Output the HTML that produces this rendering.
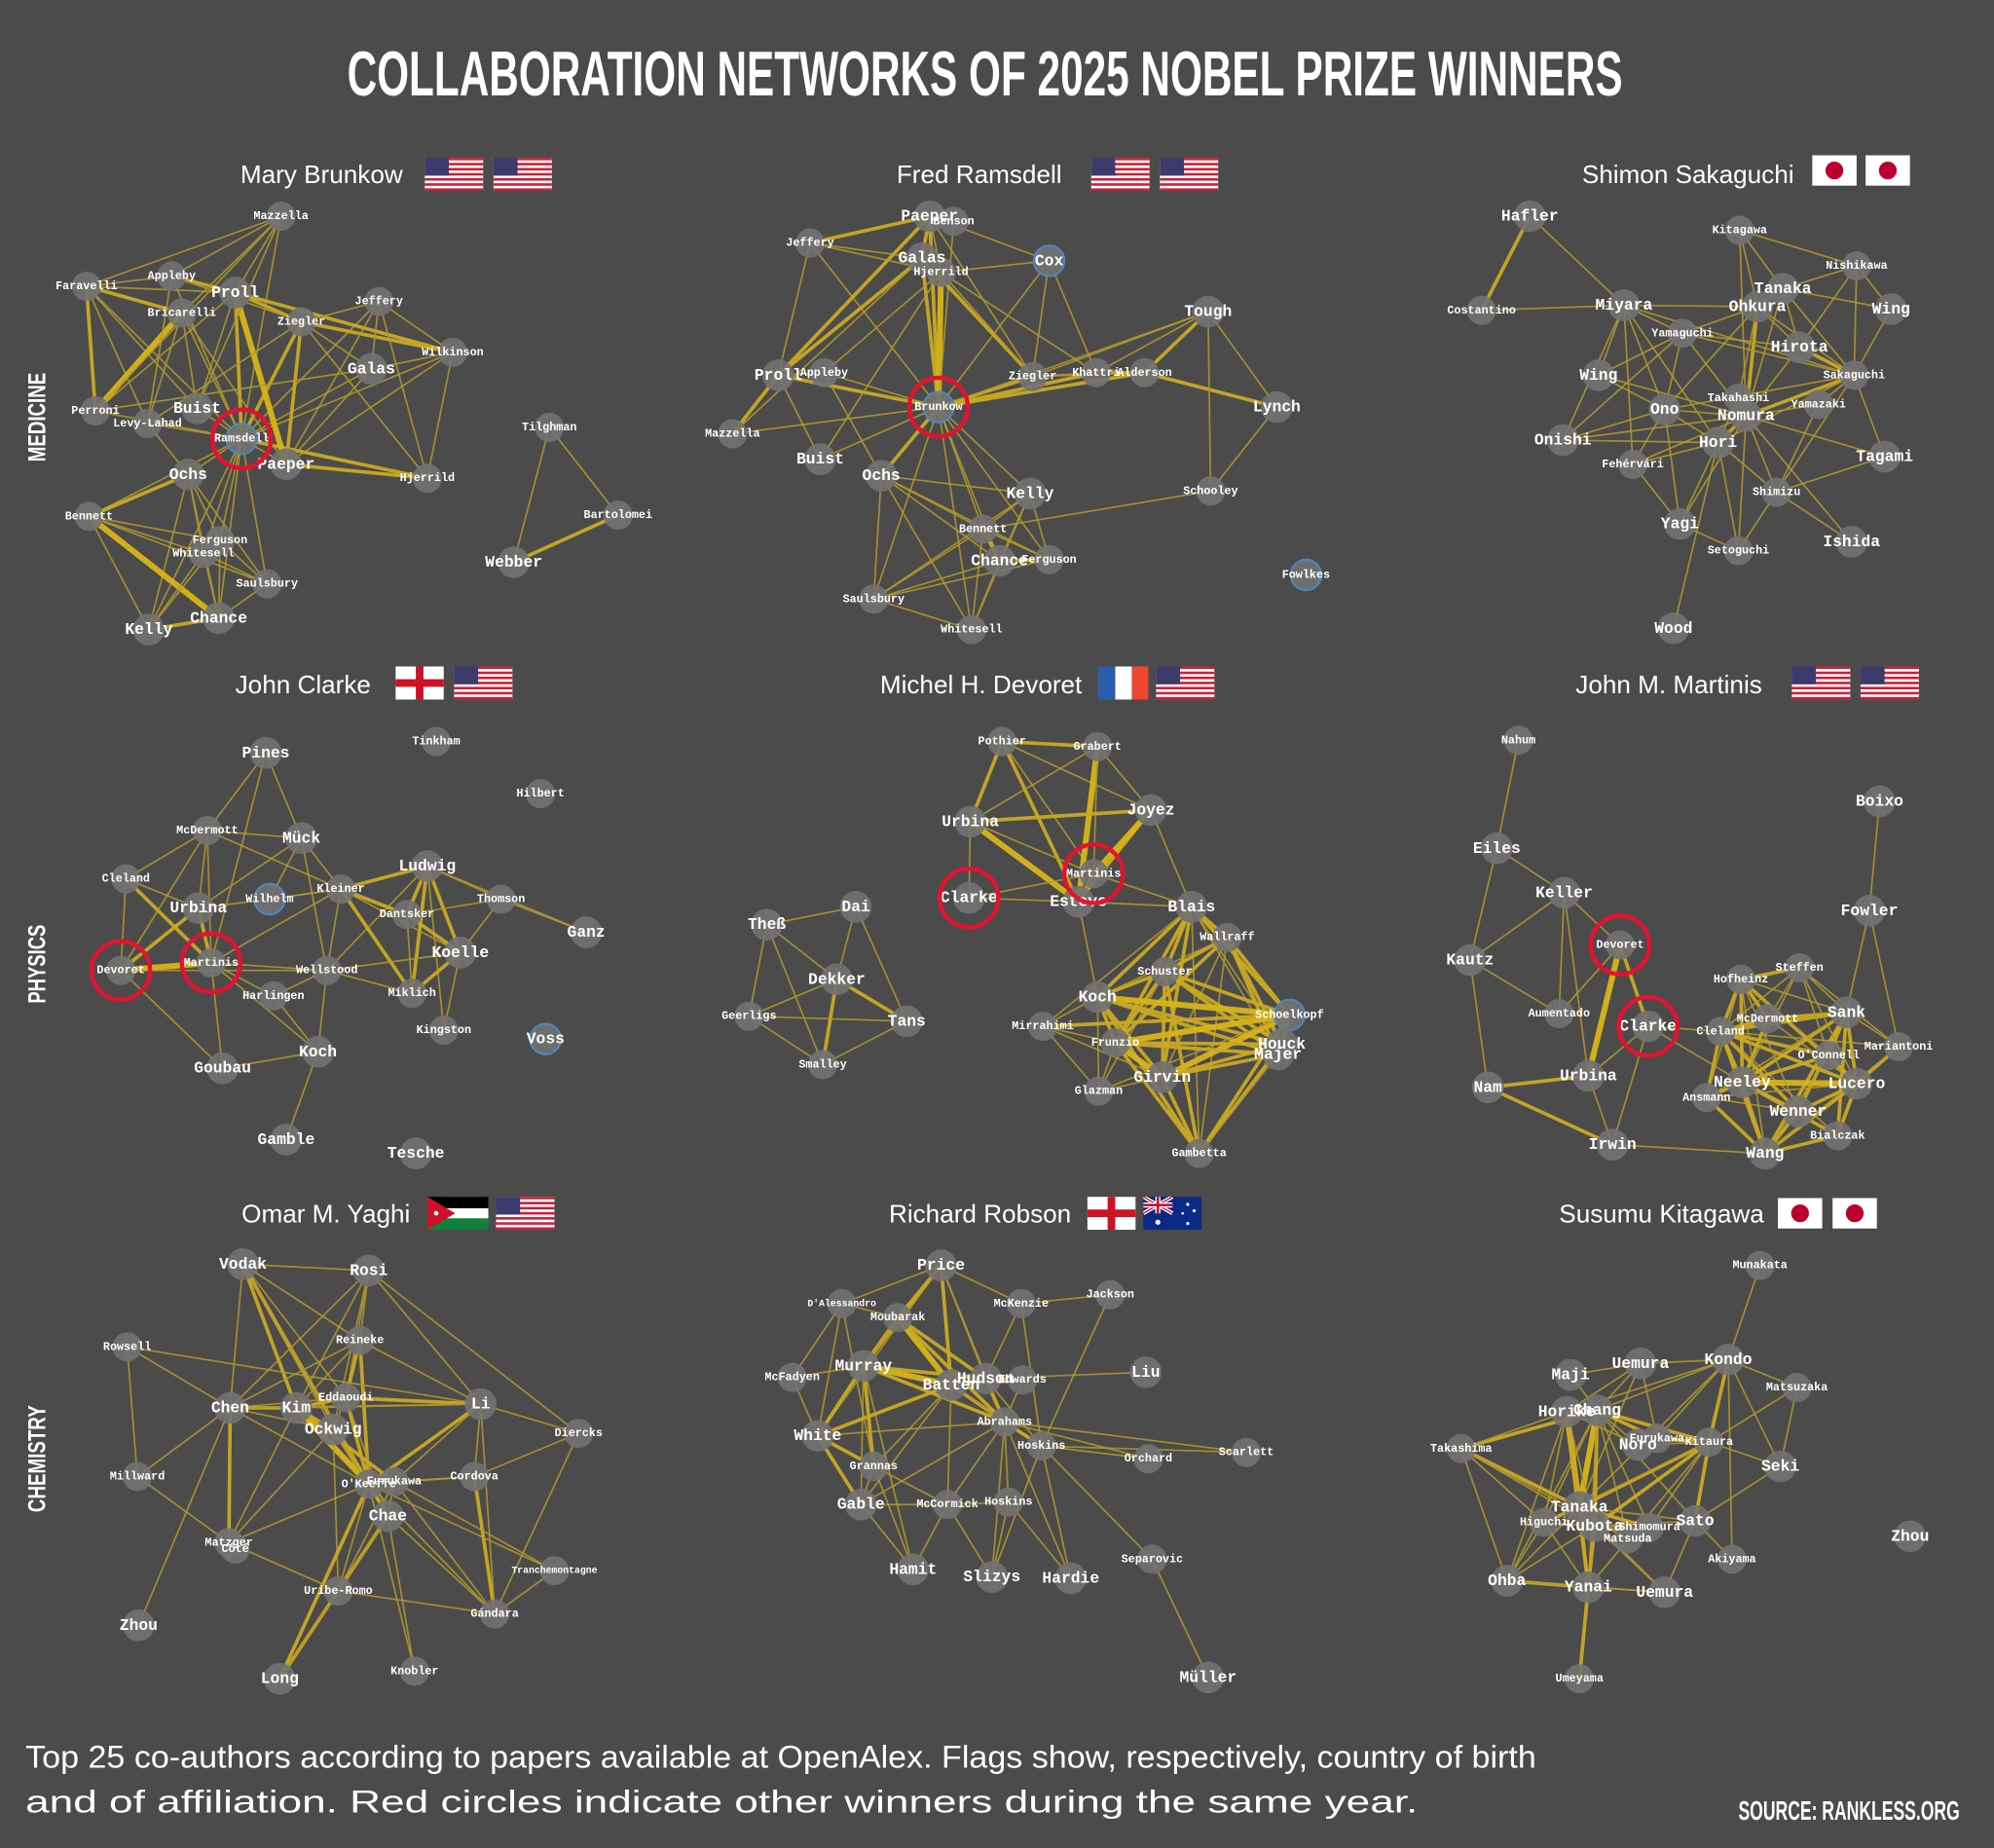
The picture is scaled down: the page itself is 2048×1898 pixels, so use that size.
<!DOCTYPE html>
<html><head><meta charset="utf-8">
<style>
html,body{margin:0;padding:0;background:#4b4b4b;}
svg{display:block;}
text{font-family:"Liberation Mono",monospace;font-weight:bold;fill:#fff;text-anchor:middle;dominant-baseline:central;}
.s7{font-size:7.5px}.s8{font-size:9px}.s11{font-size:12.5px}
.ttl{font-family:"Liberation Sans Narrow","Liberation Sans",sans-serif;font-weight:bold;font-size:50px;text-anchor:start;dominant-baseline:alphabetic;}
.nm{font-family:"Liberation Sans",sans-serif;font-weight:normal;font-size:20px;text-anchor:start;dominant-baseline:alphabetic;}
.sec{font-family:"Liberation Sans Narrow","Liberation Sans",sans-serif;font-weight:bold;font-size:19px;}
.ft{font-family:"Liberation Sans",sans-serif;font-weight:normal;font-size:25px;text-anchor:start;dominant-baseline:alphabetic;}
.src{font-family:"Liberation Sans Narrow","Liberation Sans",sans-serif;font-weight:bold;font-size:21px;text-anchor:start;dominant-baseline:alphabetic;}
</style></head><body>
<svg id="svg" xmlns="http://www.w3.org/2000/svg" width="2048" height="1898" viewBox="0 0 1568 1453">
<defs>
<symbol id="us" viewBox="0 0 46 26">
<rect width="46" height="26" fill="#fff"/>
<rect y="0" width="46" height="2" fill="#c8213a"/><rect y="4" width="46" height="2" fill="#c8213a"/><rect y="8" width="46" height="2" fill="#c8213a"/><rect y="12" width="46" height="2" fill="#c8213a"/><rect y="16" width="46" height="2" fill="#c8213a"/><rect y="20" width="46" height="2" fill="#c8213a"/><rect y="24" width="46" height="2" fill="#c8213a"/>
<rect width="19" height="14" fill="#3c3b6e"/>
</symbol>
<symbol id="jp" viewBox="0 0 35 24"><rect width="35" height="24" fill="#fff"/><circle cx="17.5" cy="12" r="7" fill="#bc002d"/></symbol>
<symbol id="en" viewBox="0 0 38 26"><rect width="38" height="26" fill="#fff"/><rect x="16" width="6" height="26" fill="#ce1124"/><rect y="10" width="38" height="6" fill="#ce1124"/></symbol>
<symbol id="fr" viewBox="0 0 40 26"><rect width="14" height="26" fill="#2b5ea8"/><rect x="14" width="13" height="26" fill="#fff"/><rect x="27" width="13" height="26" fill="#ee4631"/></symbol>
<symbol id="jo" viewBox="0 0 48 26"><rect width="48" height="9" fill="#000"/><rect y="9" width="48" height="8" fill="#fff"/><rect y="17" width="48" height="9" fill="#13803c"/><polygon points="0,0 22,13 0,26" fill="#ce1126"/><circle cx="7" cy="13" r="1.8" fill="#fff"/></symbol>
<symbol id="au" viewBox="0 0 46 26"><rect width="46" height="26" fill="#0a2a86"/><rect width="23" height="13" fill="#0a2a86"/><path d="M0 0L23 13M23 0L0 13" stroke="#fff" stroke-width="3"/><path d="M0 0L23 13M23 0L0 13" stroke="#c8102e" stroke-width="1"/><rect x="9.5" width="4" height="13" fill="#fff"/><rect y="4.5" width="23" height="4" fill="#fff"/><rect x="10.5" width="2" height="13" fill="#c8102e"/><rect y="5.5" width="23" height="2" fill="#c8102e"/><circle cx="11.5" cy="20" r="2" fill="#fff"/><circle cx="35" cy="6" r="1.2" fill="#fff"/><circle cx="40" cy="11" r="1.2" fill="#fff"/><circle cx="31" cy="13" r="1" fill="#fff"/><circle cx="35" cy="21" r="1.2" fill="#fff"/></symbol>
</defs>
<rect width="1568" height="1453" fill="#4b4b4b"/>
<text class="ttl" x="273" y="75" textLength="1003" lengthAdjust="spacingAndGlyphs">COLLABORATION NETWORKS OF  2025 NOBEL PRIZE WINNERS</text>

<text class="sec" transform="translate(30,328) rotate(-90)" textLength="70" lengthAdjust="spacingAndGlyphs">MEDICINE</text>
<text class="sec" transform="translate(30,758) rotate(-90)" textLength="62" lengthAdjust="spacingAndGlyphs">PHYSICS</text>
<text class="sec" transform="translate(30,1147) rotate(-90)" textLength="84" lengthAdjust="spacingAndGlyphs">CHEMISTRY</text>

<text class="nm" x="189" y="144">Mary Brunkow</text><use href="#us" x="334" y="124" width="46" height="26"/><use href="#us" x="388" y="124" width="46" height="26"/>
<text class="nm" x="705" y="144">Fred Ramsdell</text><use href="#us" x="858" y="124" width="46" height="26"/><use href="#us" x="912" y="124" width="46" height="26"/>
<text class="nm" x="1244" y="144">Shimon Sakaguchi</text><use href="#jp" x="1425" y="122" width="35" height="24"/><use href="#jp" x="1467" y="122" width="35" height="24"/>
<text class="nm" x="185" y="545">John Clarke</text><use href="#en" x="311" y="524" width="38" height="26"/><use href="#us" x="357" y="524" width="46" height="26"/>
<text class="nm" x="692" y="545">Michel H. Devoret</text><use href="#fr" x="863" y="524" width="40" height="26"/><use href="#us" x="909" y="524" width="46" height="26"/>
<text class="nm" x="1239" y="545">John M. Martinis</text><use href="#us" x="1409" y="524" width="46" height="26"/><use href="#us" x="1463" y="524" width="46" height="26"/>
<text class="nm" x="190" y="961">Omar M. Yaghi</text><use href="#jo" x="336" y="941" width="48" height="26"/><use href="#us" x="390" y="941" width="46" height="26"/>
<text class="nm" x="699" y="961">Richard Robson</text><use href="#en" x="855" y="941" width="38" height="26"/><use href="#au" x="899" y="941" width="46" height="26"/>
<text class="nm" x="1226" y="961">Susumu Kitagawa</text><use href="#jp" x="1398" y="942" width="35" height="24"/><use href="#jp" x="1441" y="942" width="35" height="24"/>

<g id="p1"><g class="E"></g><g class="N"></g><g class="T">
<text class="s8" x="221" y="170">Mazzella</text><text class="s8" x="68" y="225">Faravelli</text><text class="s8" x="135" y="217">Appleby</text><text class="s11" x="185" y="230">Proll</text><text class="s8" x="143" y="246">Bricarelli</text><text class="s8" x="237" y="253">Ziegler</text><text class="s8" x="298" y="237">Jeffery</text><text class="s8" x="356" y="277">Wilkinson</text><text class="s11" x="292" y="290">Galas</text><text class="s8" x="75" y="323">Perroni</text><text class="s11" x="155" y="321">Buist</text><text class="s8" x="116" y="333">Levy-Lahad</text><text class="s8 red blue" x="190" y="345">Ramsdell</text><text class="s11" x="225" y="365">Paeper</text><text class="s11" x="148" y="373">Ochs</text><text class="s8" x="336" y="376">Hjerrild</text><text class="s8" x="70" y="406">Bennett</text><text class="s8" x="173" y="425">Ferguson</text><text class="s8" x="160" y="435">Whitesell</text><text class="s8" x="210" y="459">Saulsbury</text><text class="s11" x="172" y="486">Chance</text><text class="s11" x="117" y="495">Kelly</text><text class="s8" x="432" y="336">Tilghman</text><text class="s8" x="486" y="405">Bartolomei</text><text class="s11" x="404" y="442">Webber</text>
</g></g>

<g id="p2"><g class="E"></g><g class="N"></g><g class="T">
<text class="s11" x="731" y="170">Paeper</text><text class="s8" x="750" y="174">Benson</text><text class="s8" x="637" y="191">Jeffery</text><text class="s11" x="725" y="203">Galas</text><text class="s8" x="740" y="214">Hjerrild</text><text class="s11 blue" x="825" y="205">Cox</text><text class="s11" x="950" y="245">Tough</text><text class="s11" x="612" y="295">Proll</text><text class="s8" x="648" y="293">Appleby</text><text class="s8 red blue" x="738" y="320">Brunkow</text><text class="s8" x="812" y="296">Ziegler</text><text class="s8" x="862" y="293">Khattri</text><text class="s8" x="900" y="293">Alderson</text><text class="s11" x="1004" y="320">Lynch</text><text class="s8" x="576" y="341">Mazzella</text><text class="s11" x="645" y="361">Buist</text><text class="s11" x="693" y="374">Ochs</text><text class="s11" x="810" y="388">Kelly</text><text class="s8" x="952" y="386">Schooley</text><text class="s8" x="773" y="416">Bennett</text><text class="s11" x="786" y="441">Chance</text><text class="s8" x="825" y="440">Ferguson</text><text class="s8" x="687" y="471">Saulsbury</text><text class="s8" x="764" y="495">Whitesell</text><text class="s8 blue" x="1027" y="452">Fowlkes</text>
</g></g>

<g id="p3"><g class="E"></g><g class="N"></g><g class="T">
<text class="s11" x="1203" y="170">Hafler</text><text class="s8" x="1165" y="244">Costantino</text><text class="s8" x="1368" y="181">Kitagawa</text><text class="s8" x="1460" y="209">Nishikawa</text><text class="s11" x="1402" y="227">Tanaka</text><text class="s11" x="1487" y="243">Wing</text><text class="s11" x="1277" y="240">Miyara</text><text class="s11" x="1382" y="241">Ohkura</text><text class="s8" x="1323" y="262">Yamaguchi</text><text class="s11" x="1415" y="273">Hirota</text><text class="s8" x="1458" y="295">Sakaguchi</text><text class="s11" x="1257" y="295">Wing</text><text class="s8" x="1367" y="313">Takahashi</text><text class="s11" x="1309" y="322">Ono</text><text class="s8" x="1430" y="318">Yamazaki</text><text class="s11" x="1373" y="327">Nomura</text><text class="s11" x="1229" y="346">Onishi</text><text class="s11" x="1351" y="348">Hori</text><text class="s11" x="1482" y="359">Tagami</text><text class="s8" x="1284" y="365">Fehérvári</text><text class="s8" x="1397" y="387">Shimizu</text><text class="s11" x="1321" y="412">Yagi</text><text class="s11" x="1456" y="426">Ishida</text><text class="s8" x="1367" y="433">Setoguchi</text><text class="s11" x="1316" y="494">Wood</text>
</g></g>

<g id="p4"><g class="E"></g><g class="N"></g><g class="T">
<text class="s8" x="343" y="583">Tinkham</text><text class="s11" x="209" y="592">Pines</text><text class="s8" x="425" y="624">Hilbert</text><text class="s8" x="163" y="653">McDermott</text><text class="s11" x="237" y="659">Mück</text><text class="s11" x="336" y="681">Ludwig</text><text class="s8" x="99" y="691">Cleland</text><text class="s8" x="268" y="699">Kleiner</text><text class="s8 blue" x="212" y="707">Wilhelm</text><text class="s8" x="394" y="707">Thomson</text><text class="s11" x="156" y="714">Urbina</text><text class="s8" x="320" y="719">Dantsker</text><text class="s11" x="461" y="733">Ganz</text><text class="s11" x="362" y="749">Koelle</text><text class="s8 red" x="95" y="763">Devoret</text><text class="s8 red" x="166" y="757">Martinis</text><text class="s8" x="257" y="763">Wellstood</text><text class="s8" x="215" y="783">Harlingen</text><text class="s8" x="324" y="781">Miklich</text><text class="s8" x="349" y="810">Kingston</text><text class="s11 blue" x="429" y="817">Voss</text><text class="s11" x="250" y="827">Koch</text><text class="s11" x="175" y="840">Goubau</text><text class="s11" x="225" y="896">Gamble</text><text class="s11" x="327" y="907">Tesche</text>
</g></g>

<g id="p5"><g class="E"></g><g class="N"></g><g class="T">
<text class="s8" x="788" y="583">Pothier</text><text class="s8" x="863" y="587">Grabert</text><text class="s11" x="905" y="637">Joyez</text><text class="s11" x="763" y="646">Urbina</text><text class="s8 red" x="860" y="687">Martinis</text><text class="s11 red" x="762" y="706">Clarke</text><text class="s11" x="848" y="709">Esteve</text><text class="s11" x="937" y="713">Blais</text><text class="s8" x="965" y="737">Wallraff</text><text class="s11" x="673" y="713">Dai</text><text class="s11" x="603" y="727">Theß</text><text class="s8" x="916" y="764">Schuster</text><text class="s11" x="658" y="770">Dekker</text><text class="s11" x="863" y="784">Koch</text><text class="s8 blue" x="1014" y="798">Schoelkopf</text><text class="s11" x="713" y="803">Tans</text><text class="s8" x="589" y="799">Geerligs</text><text class="s8" x="820" y="807">Mirrahimi</text><text class="s8" x="877" y="820">Frunzio</text><text class="s11" x="1005" y="829">Majer</text><text class="s11" x="1008" y="821">Houck</text><text class="s8" x="647" y="837">Smalley</text><text class="s11" x="914" y="847">Girvin</text><text class="s8" x="864" y="858">Glazman</text><text class="s8" x="943" y="907">Gambetta</text>
</g></g>

<g id="p6"><g class="E"></g><g class="N"></g><g class="T">
<text class="s8" x="1194" y="582">Nahum</text><text class="s11" x="1478" y="630">Boixo</text><text class="s11" x="1177" y="667">Eiles</text><text class="s11" x="1230" y="702">Keller</text><text class="s11" x="1470" y="716">Fowler</text><text class="s8 red" x="1274" y="743">Devoret</text><text class="s11" x="1156" y="755">Kautz</text><text class="s8" x="1415" y="761">Steffen</text><text class="s8" x="1369" y="770">Hofheinz</text><text class="s8" x="1226" y="797">Aumentado</text><text class="s8" x="1390" y="801">McDermott</text><text class="s11" x="1452" y="796">Sank</text><text class="s11 red" x="1296" y="807">Clarke</text><text class="s8" x="1353" y="811">Cleland</text><text class="s8" x="1493" y="823">Mariantoni</text><text class="s8" x="1438" y="830">O'Connell</text><text class="s11" x="1249" y="846">Urbina</text><text class="s11" x="1370" y="851">Neeley</text><text class="s11" x="1460" y="852">Lucero</text><text class="s11" x="1170" y="855">Nam</text><text class="s8" x="1342" y="863">Ansmann</text><text class="s11" x="1414" y="874">Wenner</text><text class="s8" x="1445" y="893">Bialczak</text><text class="s11" x="1268" y="900">Irwin</text><text class="s11" x="1388" y="907">Wang</text>
</g></g>

<g id="p7"><g class="E"></g><g class="N"></g><g class="T">
<text class="s11" x="191" y="994">Vodak</text><text class="s11" x="290" y="999">Rosi</text><text class="s8" x="283" y="1054">Reineke</text><text class="s8" x="100" y="1059">Rowsell</text><text class="s8" x="272" y="1099">Eddaoudi</text><text class="s11" x="181" y="1107">Chen</text><text class="s11" x="233" y="1107">Kim</text><text class="s11" x="378" y="1104">Li</text><text class="s11" x="262" y="1124">Ockwig</text><text class="s8" x="455" y="1127">Diercks</text><text class="s8" x="108" y="1161">Millward</text><text class="s8" x="373" y="1161">Cordova</text><text class="s8" x="310" y="1165">Furukawa</text><text class="s8" x="290" y="1167">O'Keeffe</text><text class="s11" x="305" y="1192">Chae</text><text class="s8" x="185" y="1218">Côté</text><text class="s8" x="180" y="1213">Matzger</text><text class="s7" x="436" y="1235">Tranchemontagne</text><text class="s8" x="266" y="1251">Uribe-Romo</text><text class="s8" x="389" y="1269">Gándara</text><text class="s11" x="109" y="1278">Zhou</text><text class="s8" x="326" y="1314">Knobler</text><text class="s11" x="220" y="1320">Long</text>
</g></g>

<g id="p8"><g class="E"></g><g class="N"></g><g class="T">
<text class="s11" x="740" y="995">Price</text><text class="s7" x="662" y="1025">D'Alessandro</text><text class="s8" x="803" y="1025">McKenzie</text><text class="s8" x="873" y="1018">Jackson</text><text class="s8" x="706" y="1036">Moubarak</text><text class="s11" x="679" y="1074">Murray</text><text class="s8" x="623" y="1083">McFadyen</text><text class="s11" x="901" y="1079">Liu</text><text class="s8" x="804" y="1085">Edwards</text><text class="s11" x="775" y="1084">Hudson</text><text class="s11" x="748" y="1089">Batten</text><text class="s8" x="790" y="1118">Abrahams</text><text class="s11" x="643" y="1129">White</text><text class="s8" x="819" y="1137">Hoskins</text><text class="s8" x="903" y="1147">Orchard</text><text class="s8" x="980" y="1142">Scarlett</text><text class="s8" x="687" y="1153">Grannas</text><text class="s11" x="677" y="1183">Gable</text><text class="s8" x="745" y="1183">McCormick</text><text class="s8" x="793" y="1181">Hoskins</text><text class="s11" x="718" y="1234">Hamit</text><text class="s11" x="780" y="1240">Slizys</text><text class="s11" x="842" y="1241">Hardie</text><text class="s8" x="906" y="1226">Separovic</text><text class="s11" x="950" y="1319">Müller</text>
</g></g>

<g id="p9"><g class="E"></g><g class="N"></g><g class="T">
<text class="s8" x="1384" y="995">Munakata</text><text class="s11" x="1359" y="1069">Kondo</text><text class="s11" x="1290" y="1072">Uemura</text><text class="s11" x="1235" y="1081">Maji</text><text class="s8" x="1413" y="1091">Matsuzaka</text><text class="s11" x="1232" y="1110">Horike</text><text class="s11" x="1256" y="1109">Chang</text><text class="s8" x="1303" y="1131">Furukawa</text><text class="s11" x="1288" y="1136">Noro</text><text class="s8" x="1344" y="1134">Kitaura</text><text class="s8" x="1149" y="1139">Takashima</text><text class="s11" x="1400" y="1153">Seki</text><text class="s11" x="1242" y="1185">Tanaka</text><text class="s8" x="1214" y="1197">Higuchi</text><text class="s11" x="1254" y="1200">Kubota</text><text class="s8" x="1297" y="1201">Shimomura</text><text class="s8" x="1280" y="1210">Matsuda</text><text class="s11" x="1333" y="1196">Sato</text><text class="s8" x="1362" y="1226">Akiyama</text><text class="s11" x="1502" y="1208">Zhou</text><text class="s11" x="1185" y="1243">Ohba</text><text class="s11" x="1249" y="1248">Yanai</text><text class="s11" x="1309" y="1252">Uemura</text><text class="s8" x="1242" y="1320">Umeyama</text>
</g></g>

<text class="ft" x="20" y="1390" textLength="1188" lengthAdjust="spacingAndGlyphs">Top 25 co-authors according to papers available at OpenAlex. Flags show, respectively, country of birth</text>
<text class="ft" x="20" y="1425" textLength="1095" lengthAdjust="spacingAndGlyphs">and of affiliation. Red circles indicate other winners during the same year.</text>
<text class="src" x="1367" y="1431" textLength="174" lengthAdjust="spacingAndGlyphs">SOURCE: RANKLESS.ORG</text>
</svg>
<script>
var E={
p1:"Ramsdell>Proll:2,Bricarelli,Appleby,Mazzella,Ziegler:2,Jeffery,Wilkinson,Galas,Hjerrild:2,Paeper,Ochs,Buist,Levy-Lahad,Perroni,Faravelli,Bennett,Ferguson,Whitesell,Saulsbury,Chance,Kelly;Proll>Paeper:3,Appleby:2,Faravelli,Mazzella,Ziegler:2,Wilkinson:2,Buist,Perroni;Faravelli>Appleby,Bricarelli:2,Perroni:2,Mazzella,Levy-Lahad,Buist;Bricarelli>Perroni:3,Levy-Lahad,Buist,Mazzella,Paeper;Appleby>Mazzella,Levy-Lahad,Ziegler;Ziegler>Jeffery,Wilkinson:2,Galas,Hjerrild,Paeper:2,Levy-Lahad;Jeffery>Galas,Hjerrild,Paeper,Wilkinson;Wilkinson>Hjerrild,Paeper,Galas;Galas>Paeper,Perroni;Paeper>Hjerrild:2;Ochs>Bennett:2,Ferguson,Whitesell,Chance,Kelly,Saulsbury,Levy-Lahad;Bennett>Chance:3,Kelly,Whitesell,Saulsbury,Ferguson;Whitesell>Kelly,Chance,Saulsbury;Ferguson>Kelly,Chance,Saulsbury;Chance>Kelly:2,Saulsbury;Tilghman>Webber,Bartolomei;Bartolomei>Webber:2;Mazzella>Buist,Perroni",
p2:"Brunkow>Paeper:2,Galas:2,Hjerrild:3,Jeffery,Proll:2,Appleby,Mazzella,Buist,Ochs:2,Ziegler:2,Khattri:2,Alderson:2,Cox,Kelly,Bennett,Chance,Ferguson,Whitesell,Saulsbury,Tough,Benson;Paeper>Jeffery:2,Galas:2,Hjerrild,Proll:2,Ziegler,Cox,Benson;Galas>Jeffery,Proll:2,Mazzella,Ziegler:2,Hjerrild;Jeffery>Proll,Hjerrild;Hjerrild>Ziegler,Cox,Buist,Appleby,Khattri;Proll>Appleby,Mazzella:2,Buist;Ziegler>Khattri,Alderson,Cox,Tough;Khattri>Alderson:2,Tough,Cox;Alderson>Tough:2,Lynch:2;Tough>Lynch,Schooley;Lynch>Schooley;Ochs>Kelly,Bennett,Chance,Saulsbury,Whitesell,Ferguson;Kelly>Bennett,Chance,Ferguson,Whitesell,Saulsbury;Bennett>Chance:2,Ferguson,Whitesell,Saulsbury;Chance>Ferguson:2,Whitesell,Saulsbury;Saulsbury>Whitesell,Ferguson;Schooley>Bennett;Appleby>Ochs",
p3:"Hafler>Costantino:2,Miyara;Nomura>Sakaguchi:2,Ohkura:2,Hori:2,Takahashi:2,Ono,Yamaguchi,Tanaka,Hirota,Tagami,Shimizu,Yagi,Setoguchi,Fehérvári,Wing2,Onishi,Yamazaki,Kitagawa,Ishida;Sakaguchi>Hirota:2,Ohkura,Tanaka,Wing,Nishikawa,Yamazaki,Tagami,Shimizu,Ono,Hori,Miyara,Yamaguchi;Miyara>Yamaguchi,Ono,Wing2,Onishi,Ohkura,Costantino,Fehérvári,Hori;Ohkura>Tanaka,Kitagawa,Hirota,Takahashi,Ono,Yamaguchi;Tanaka>Nishikawa,Wing,Kitagawa,Hirota;Hori>Ono,Yagi,Fehérvári,Shimizu,Setoguchi,Onishi,Takahashi,Wood;Yamaguchi>Wing2,Onishi,Ono,Hirota;Ono>Wing2,Onishi,Fehérvári,Yagi;Shimizu>Ishida,Tagami,Yamazaki,Setoguchi;Nishikawa>Wing,Hirota,Kitagawa;Yagi>Setoguchi,Fehérvári",
p4:"Martinis>Devoret:3,Urbina:2,Cleland:2,McDermott,Wellstood,Harlingen,Koch,Goubau,Kleiner,Pines;Devoret>Urbina:2,Cleland,McDermott,Wellstood,Goubau;McDermott>Pines,Mück,Urbina,Cleland,Kleiner;Pines>Mück;Mück>Kleiner,Wilhelm,Wellstood,Urbina;Ludwig>Kleiner:2,Dantsker:2,Koelle:2,Thomson,Miklich:2,Kingston,Wellstood,Ganz;Kleiner>Dantsker:2,Koelle,Miklich:2,Wellstood,Wilhelm;Dantsker>Koelle:2,Miklich,Thomson;Koelle>Miklich:2,Kingston,Thomson;Thomson>Ganz;Wellstood>Koelle,Miklich,Koch,Harlingen;Koch>Goubau,Gamble,Harlingen;Urbina>Cleland,Wilhelm;Wilhelm>Kleiner",
p5:"Pothier>Grabert:2,Urbina:2,Joyez,Esteve:2,Martinis;Grabert>Joyez,Esteve:3,Urbina,Martinis;Joyez>Urbina:2,Esteve:2,Martinis:3,Blais;Urbina>Clarke,Esteve:3,Martinis;Martinis>Clarke,Esteve:2,Blais;Clarke>Esteve;Esteve>Koch,Blais;Dai>Theß,Dekker,Tans;Theß>Dekker,Geerligs,Smalley;Dekker>Geerligs,Tans:2,Smalley:2;Smalley>Tans,Geerligs;Geerligs>Tans;Blais>Wallraff:2,Schuster:2,Koch:2,Schoelkopf:2,Frunzio:2,Girvin:2,Majer,Houck,Gambetta,Mirrahimi;Wallraff>Schuster:2,Koch,Schoelkopf:2,Frunzio:2,Girvin,Majer:2,Houck:2,Gambetta;Schuster>Koch:2,Schoelkopf:2,Frunzio:2,Girvin:2,Majer:2,Houck:2,Gambetta:2,Glazman;Koch>Schoelkopf:3,Frunzio:2,Girvin:2,Majer:2,Houck:2,Gambetta:2,Mirrahimi,Glazman;Schoelkopf>Frunzio:3,Girvin:3,Majer:2,Houck:2,Gambetta:2,Mirrahimi:2,Glazman;Frunzio>Girvin:3,Majer:2,Houck:2,Gambetta:2,Mirrahimi,Glazman;Girvin>Majer:2,Houck:2,Gambetta:2,Glazman,Mirrahimi;Houck>Gambetta:2,Majer;Majer>Gambetta;Mirrahimi>Glazman",
p6:"Nahum>Eiles;Eiles>Keller,Kautz;Keller>Devoret,Aumentado,Kautz,Urbina;Devoret>Clarke:2,Urbina:3,Aumentado;Kautz>Nam,Aumentado;Nam>Urbina:2,Irwin:2;Urbina>Clarke,Irwin;Clarke>Cleland,Irwin,Neeley;Irwin>Wang;Boixo>Fowler;Fowler>Sank,Mariantoni;Cleland>Sank:2,McDermott:2,Hofheinz:2,Steffen,Neeley:2,Lucero:2,Wenner:2,O'Connell:2,Mariantoni,Ansmann:2,Wang:2,Bialczak;Sank>Steffen,Hofheinz,McDermott:2,O'Connell:2,Mariantoni,Lucero:2,Neeley:2,Wenner:2,Wang:2,Bialczak:2,Ansmann;Neeley>Hofheinz:2,McDermott:2,O'Connell:2,Lucero:3,Wenner:2,Wang:2,Bialczak:2,Ansmann:2,Steffen;Lucero>Hofheinz:2,McDermott,O'Connell:2,Wenner:2,Wang:2,Bialczak:2,Ansmann,Mariantoni:2,Steffen;Wang>Wenner:2,Bialczak:2,Ansmann:2,O'Connell,Hofheinz,Mariantoni;Hofheinz>McDermott:2,Steffen:2,O'Connell,Wenner;Steffen>McDermott,Mariantoni,O'Connell;Ansmann>Wenner,Hofheinz",
p7:"Vodak>Eddaoudi,Kim:2,Ockwig,O'Keeffe:2,Chen,Reineke,Chae,Rosi;Rosi>Eddaoudi,Reineke,Kim,Li,Diercks,Ockwig,Chen;Reineke>Eddaoudi:2,O'Keeffe:2,Chen,Kim,Li;Rowsell>Chen,Millward,Li;Eddaoudi>Kim:2,Li:2,O'Keeffe:2,Chen,Chae,Ockwig;Chen>Kim:2,Li,Matzger:2,Millward,Ockwig,O'Keeffe;Kim>Ockwig:2,O'Keeffe:3,Li,Matzger,Furukawa:2;Ockwig>O'Keeffe:2,Chae,Matzger,Uribe-Romo;O'Keeffe>Furukawa:2,Chae:2,Li:2,Cordova,Uribe-Romo,Long:2,Matzger,Gándara,Knobler;Furukawa>Chae,Cordova,Li,Gándara,Tranchemontagne,Uribe-Romo;Chae>Long:2,Uribe-Romo,Knobler,Gándara;Li>Cordova,Diercks,Gándara;Cordova>Gándara:2,Diercks;Diercks>Gándara;Tranchemontagne>Gándara,O'Keeffe;Matzger>Millward,Uribe-Romo,Côté;Zhou>Chen;Uribe-Romo>Long,Gándara",
p8:"Price>D'Alessandro,Moubarak:2,Murray:2,Batten:2,McKenzie,Hudson,Abrahams,White;Moubarak>Murray:2,Batten:3,Hudson:2,Abrahams:2,D'Alessandro,White;Murray>Batten:3,Hudson:2,Abrahams:2,White:2,McFadyen,Grannas:2,Gable,Hamit;Batten>Hudson:2,Edwards:2,Abrahams:2,White:2,Grannas,Gable,McCormick,Hoskins;Hudson>Edwards,Abrahams:2,Hoskins,McKenzie,Liu;Abrahams>Hoskins:2,Edwards,McCormick,Hoskins2,White,Gable,Slizys,Hardie,Orchard,Scarlett;Hoskins>Orchard,Scarlett,Jackson,Hardie,Separovic,Slizys,McKenzie;White>Grannas:2,Gable:2,McFadyen,D'Alessandro;Grannas>Gable,McCormick,Hamit;Gable>Hamit,McCormick;McCormick>Hamit,Slizys,Hoskins2;Hoskins2>Slizys,Hardie;Separovic>Müller;D'Alessandro>McFadyen,Grannas;McKenzie>Jackson",
p9:"Kondo>Munakata,Uemura,Matsuzaka,Kitaura:2,Chang,Seki,Horike,Furukawa,Tanaka,Akiyama;Uemura>Maji,Chang,Horike,Furukawa,Tanaka;Chang>Horike:3,Maji,Tanaka:3,Kubota:2,Takashima:2,Higuchi,Furukawa:2,Kitaura:2,Noro,Shimomura,Yanai,Ohba,Matsuda,Sato;Horike>Takashima,Tanaka:3,Kubota,Higuchi,Yanai:2,Ohba,Noro;Kitaura>Furukawa:2,Noro,Tanaka:2,Kubota:2,Sato:2,Shimomura,Seki,Matsuzaka,Yanai,Higuchi;Tanaka>Kubota:3,Higuchi:2,Shimomura:2,Matsuda,Yanai:2,Ohba,Sato,Takashima:2,Uemura2;Kubota>Higuchi,Shimomura,Yanai:2,Uemura2,Ohba,Sato;Takashima>Higuchi,Ohba,Kubota,Matsuda;Yanai>Umeyama:2,Uemura2,Ohba:2,Higuchi;Sato>Akiyama,Uemura2,Seki;Ohba>Higuchi,Uemura2;Matsuzaka>Seki"
};
var NS="http://www.w3.org/2000/svg";
function mk(t,a,p){var e=document.createElementNS(NS,t);for(var k in a)e.setAttribute(k,a[k]);p.appendChild(e);return e;}
for(var id in E){
 var g=document.getElementById(id),eg=g.querySelector(".E"),ng=g.querySelector(".N"),map={};
 var ts=g.querySelectorAll(".T text");
 for(var i=0;i<ts.length;i++){var t=ts[i],n=t.textContent,x=+t.getAttribute("x"),y=+t.getAttribute("y");
  var key=map[n]?n+"2":n;map[key]={x:x,y:y};
  var big=t.classList.contains("s11");
  mk("circle",{cx:x,cy:y,r:big?12.5:11.5,fill:"#727272","fill-opacity":"0.9"},ng);
  if(t.classList.contains("blue"))mk("circle",{cx:x,cy:y,r:12,fill:"none",stroke:"#4f86c0","stroke-width":1.6},ng);
 }
 var segs=E[id].split(";");
 for(var s=0;s<segs.length;s++){var p=segs[s].split(">"),a=map[p[0]];if(!a)continue;var L=p[1].split(",");
  for(var j=0;j<L.length;j++){var q=L[j].split(":"),b=map[q[0]];if(!b)continue;var w=q[1]?+q[1]:1;
   var sw=w==1?1.3:(w==2?2.8:4.6),col=w==1?"#b39a2e":(w==2?"#c9a923":"#d8b417"),op=w==1?0.85:0.95;
   mk("line",{x1:a.x,y1:a.y,x2:b.x,y2:b.y,stroke:col,"stroke-width":sw,"stroke-opacity":op},eg);}
 }
 for(var i=0;i<ts.length;i++){var t=ts[i];if(t.classList.contains("red")){
  mk("circle",{cx:t.getAttribute("x"),cy:t.getAttribute("y"),r:23,fill:"none",stroke:"#e3122f","stroke-width":3.4},g);}}
}
</script>
</body></html>
